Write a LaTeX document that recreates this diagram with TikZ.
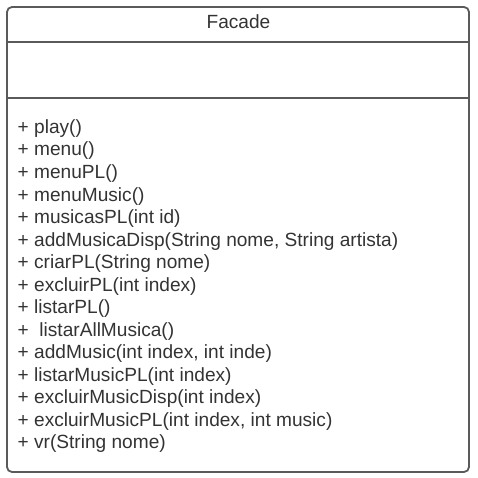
\documentclass[tikz,border=0pt]{standalone}
\usepackage{fontspec}
\setmainfont{Liberation Sans}
\usetikzlibrary{positioning}

\definecolor{umlline}{HTML}{5A5A5A}
\definecolor{umltext}{HTML}{333333}

\begin{document}
\begin{tikzpicture}[
    x=1pt, y=-1pt,
    classbox/.style={draw=umlline, line width=1.8pt, rounded corners=5pt},
    divider/.style={draw=umlline, line width=1.8pt},
    umlfont/.style={text=umltext, font=\fontsize{19.1}{22.5}\selectfont, inner sep=0pt}
]
\useasboundingbox (0,0) rectangle (477,478);

% Class frame
\draw[classbox] (7,7) rectangle (469,472);

% Compartments
\coordinate (head_l) at (7,42);
\coordinate (head_r) at (469,42);
\coordinate (attr_l) at (7,98);
\coordinate (attr_r) at (469,98);
\draw[divider] (head_l) -- (head_r);
\draw[divider] (attr_l) -- (attr_r);

% Class name
\node[umlfont, anchor=base] (facade) at (238.5,28.5) {Facade};

% Operations
\foreach \op [count=\i from 0] in {%
    {+ play()},
    {+ menu()},
    {+ menuPL()},
    {+ menuMusic()},
    {+ musicasPL(int id)},
    {+ addMusicaDisp(String nome, String artista)},
    {+ criarPL(String nome)},
    {+ excluirPL(int index)},
    {+ listarPL()},
    {+\ \ listarAllMusica()},
    {+ addMusic(int index, int inde)},
    {+ listarMusicPL(int index)},
    {+ excluirMusicDisp(int index)},
    {+ excluirMusicPL(int index, int music)},
    {+ vr(String nome)}}
  \node[umlfont, anchor=base west] (op\i) at (17.5,133.5+22.5*\i) {\op};

\end{tikzpicture}
\end{document}
